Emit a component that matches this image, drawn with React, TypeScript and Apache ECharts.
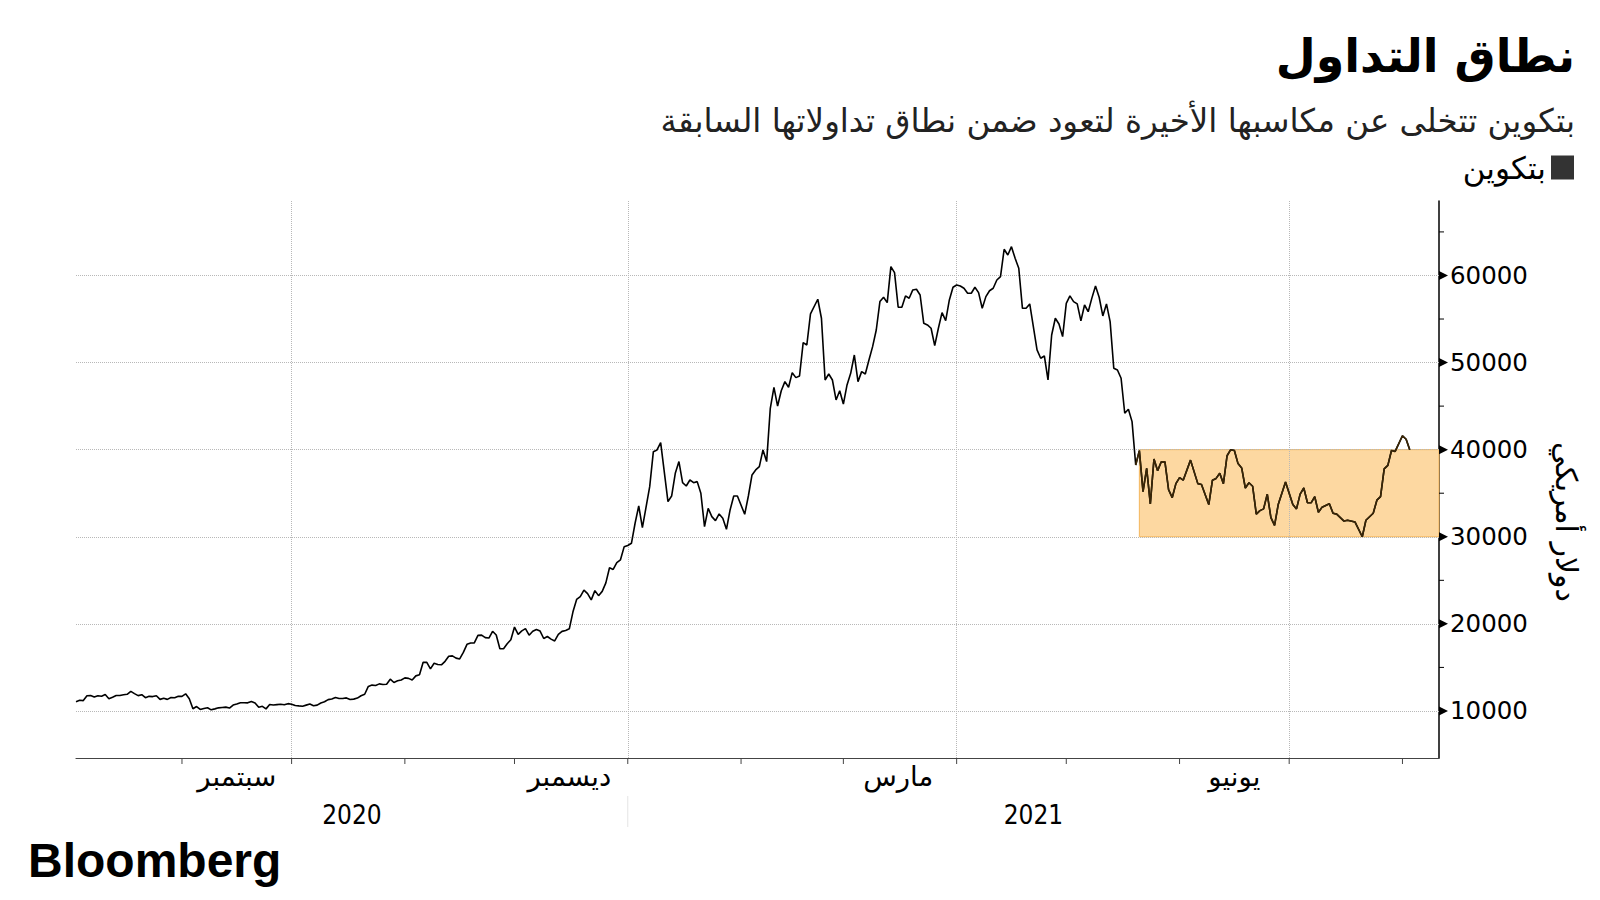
import React, { useEffect, useRef } from "react";
import * as echarts from "echarts";

// ---------- data ----------
const SERIES_NAME = "بتكوين";
const TITLE = "نطاق التداول";
const SUBTITLE = "بتكوين تتخلى عن مكاسبها الأخيرة لتعود ضمن نطاق تداولاتها السابقة";
const Y_NAME = "دولار أمريكي";

const X_START = "2020-08-03";
const X_END = "2021-08-11";

// daily closes, each array starts at the given day of its month (null = no point read)
const aug2020 = [11070, 11230, 11190, 11740, 11770, 11600, 11750, 11680, 11880, 11410, 11580, 11780, 11770, 11860, 11910, 12250, 11990, 11760, 11870, 11520, 11680, 11650, 11750, 11330, 11470, 11330, 11540, 11510, 11680];
const sep2020 = [11680, 11970, 11410, 10250, 10510, 10170, 10280, 10370, 10130, 10240, 10360, 10400, 10440, 10330, 10680, 10790, 10950, 10940, 10930, 11080, 10920, 10420, 10530, 10240, 10740, 10690, 10730, 10770, 10710, 10840];
const oct2020 = [10780, 10620, 10580, 10550, 10670, 10790, 10600, 10670, 10920, 11060, 11300, 11380, 11540, 11430, 11430, 11500, 11320, 11360, 11480, 11750, 11920, 12820, 12970, 12930, 13110, 13030, 13070, 13650, 13270, 13460, 13560];
const nov2020 = [13800, 13740, 13550, 14030, 14150, 15590, 15580, 14830, 15480, 15330, 15300, 15700, 16280, 16320, 16070, 15970, 16720, 17650, 17800, 17820, 18680, 18710, 18420, 18370, 19150, 18720, 17150, 17140, 17720, 18180];
const dec2020 = [19630, 18800, 19200, 19450, 18700, 19150, 19360, 19170, 18320, 18550, 18250, 18040, 18800, 19140, 19250, 19430, 21380, 22800, 23130, 23870, 23480, 22750, 23820, 23240, 23730, 24710, 26440, 26250, 27040, 27360, 28840];
const jan2021 = [29000, 29250, 31550, 33540, 31040, null, 35750, 39770, 39970, 40800, null, 34030, 34680, 37290, 38630, 36210, 35830, 36520, 36210, 36330, 35000, 31160, 33270, 32310, 31850, 32620, 32120, 30860, 33080, 34680, 34680];
const feb2021 = [null, 32580, 34680, 37100, 37670, 38050, 39970, 38630, 44750, 47160, 45010, 46770, 47810, 47160, 48840, 48270, 48460, 52290, 52020, 55580, null, 57270, 55090, 48000, 48690, 48000, 45710, 46770];
const mar2021 = [45240, 47430, 48770, 50870, 47810, 48960, 48690, 50300, 51830, 53740, 57000, 57500, 56880, 61010, 60320, 56350, 56350, 57650, 57380, 58340, 58420, 57760, 54510, 54320, 53940, 51940, 53940, 55730, 54810, 57190, 58650];
const apr2021 = [58910, 58790, 58530, 57960, 57960, 58650, 58030, 56230, 57570, 58250, 58530, 59480, 59860, 63010, 62350, 63310, 61970, 60830, 56230, 56230, 56730, null, 51450, 50500, 50760, 48000, 53170, 55090, 54430, 52980];
const may2021 = [56800, 57650, 57000, 56730, 54780, 56610, 55840, 57400, 58800, 57500, 55350, 56730, 54700, 49350, 49150, 48200, 44180, 44640, 43220, 38240, 39890, 35180, 37860, 33770, 38920, 37590, 38620, 38600, 35400, 34500, 36100];
const jun2021 = [36800, 36500, null, 38800, null, 36100, 36000, null, 33700, 36500, 36700, 37300, 36100, 39300, 40000, 39900, 38400, 37900, 35600, 36200, 35800, 32600, 33000, 33200, 34900, 32200, 31300, 33700, null, 36300];
const jul2021 = [null, 33700, 33200, 34900, 35600, 33900, 33900, 34600, 32800, 33400, null, 33800, 32700, 32600, 32200, 31800, 31900, null, 31700, null, 30000, 31900, 32300, 32700, 34200, 34600, 37800, 38200, 39900, 39800, null];
const aug2021 = [41600, 41200, 40000];

const MONTHS: [number, number, number, (number | null)[]][] = [
  [2020, 8, 3, aug2020],
  [2020, 9, 1, sep2020],
  [2020, 10, 1, oct2020],
  [2020, 11, 1, nov2020],
  [2020, 12, 1, dec2020],
  [2021, 1, 1, jan2021],
  [2021, 2, 1, feb2021],
  [2021, 3, 1, mar2021],
  [2021, 4, 1, apr2021],
  [2021, 5, 1, may2021],
  [2021, 6, 1, jun2021],
  [2021, 7, 1, jul2021],
  [2021, 8, 1, aug2021],
];

// trading range box
const RANGE_START = "2021-05-21";
const RANGE_BOUNDS = [30000, 40000];

// axes
const Y_MIN = 4600;
const Y_MAX = 68550;
const Y_LABELS = [10000, 20000, 30000, 40000, 50000, 60000];
const Y_MINOR = [15000, 25000, 35000, 45000, 55000, 65000];
const MONTH_TICKS = ["2020-09-01", "2020-10-01", "2020-11-01", "2020-12-01", "2021-01-01", "2021-02-01", "2021-03-01", "2021-04-01", "2021-05-01", "2021-06-01", "2021-07-01", "2021-08-01"];
const QUARTER_LINES = ["2020-10-01", "2021-01-01", "2021-04-01", "2021-07-01"];
const MONTH_LABEL_DATES = ["2020-09-16", "2020-12-16", "2021-03-16", "2021-06-16"];
const MONTH_LABELS = ["سبتمبر", "ديسمبر", "مارس", "يونيو"];
const YEAR_BREAK = "2021-01-01";
const YEAR_LABELS = ["2020", "2021"];

// ---------- helpers ----------
const ts = (s: string) => Date.parse(s + "T00:00:00Z");
const DAY = 86400000;

function buildSeries(): [number, number][] {
  const out: [number, number][] = [];
  MONTHS.forEach(([y, m, d0, vals]) => {
    const base = Date.UTC(y, m - 1, d0);
    vals.forEach((v, i) => {
      if (v !== null) out.push([base + i * DAY, v]);
    });
  });
  return out;
}

const AR_FONT = "DejaVu Sans";

function customLayer(name: string, data: any[], renderItem: any) {
  return {
    name,
    type: "custom",
    coordinateSystem: "cartesian2d",
    xAxisIndex: 0,
    yAxisIndex: 0,
    data,
    renderItem,
    clip: false,
    silent: true,
    z: 6,
  };
}

export default function App() {
  const ref = useRef<HTMLDivElement>(null);

  useEffect(() => {
    if (!ref.current) return;
    const chart = echarts.init(ref.current, null, { renderer: "svg" });
    const xMin = ts(X_START);
    const xMax = ts(X_END);
    const yearBreak = ts(YEAR_BREAK);
    const yearCenters = [(xMin + yearBreak) / 2, (yearBreak + xMax) / 2];
    const data = buildSeries();
    const rangeStart = ts(RANGE_START);
    const inRange = data.filter((d) => d[0] >= rangeStart - DAY);

    const xTickLayer = customLayer(
      "xticks",
      MONTH_TICKS.map((d) => [ts(d), Y_MIN]),
      (params: any, api: any) => {
        const p = api.coord([api.value(0), api.value(1)]);
        return {
          type: "line",
          shape: { x1: p[0], y1: p[1], x2: p[0], y2: p[1] + 6 },
          style: { stroke: "#444", lineWidth: 1 },
        };
      }
    );

    const monthLabelLayer = customLayer(
      "monthlabels",
      MONTH_LABEL_DATES.map((d, i) => [ts(d), Y_MIN, i]),
      (params: any, api: any) => {
        const p = api.coord([api.value(0), api.value(1)]);
        return {
          type: "text",
          x: p[0],
          y: p[1] + 4,
          style: {
            text: MONTH_LABELS[api.value(2)],
            fontFamily: AR_FONT,
            fontSize: 27.5,
            fill: "#000",
            align: "center",
            verticalAlign: "top",
          },
        };
      }
    );

    const yearLayer = customLayer(
      "years",
      yearCenters.map((c, i) => [c, Y_MIN, i]),
      (params: any, api: any) => {
        const p = api.coord([api.value(0), api.value(1)]);
        return {
          type: "text",
          x: p[0],
          y: p[1] + 57,
          style: {
            text: YEAR_LABELS[api.value(2)],
            fontFamily: "DejaVu Sans Condensed",
            fontSize: 26,
            fill: "#000",
            align: "center",
            verticalAlign: "middle",
          },
        };
      }
    );

    const yearBreakLayer = customLayer(
      "yearbreak",
      [[yearBreak, Y_MIN]],
      (params: any, api: any) => {
        const p = api.coord([api.value(0), api.value(1)]);
        return {
          type: "line",
          shape: { x1: p[0], y1: p[1] + 38, x2: p[0], y2: p[1] + 69 },
          style: { stroke: "#e4e4e4", lineWidth: 1 },
        };
      }
    );

    const yLabelLayer = customLayer(
      "ylabels",
      Y_LABELS.map((v) => [xMax, v]),
      (params: any, api: any) => {
        const p = api.coord([api.value(0), api.value(1)]);
        return {
          type: "group",
          children: [
            {
              type: "polygon",
              shape: { points: [[p[0], p[1] - 4.5], [p[0] + 9, p[1]], [p[0], p[1] + 4.5]] },
              style: { fill: "#000" },
            },
            {
              type: "text",
              x: p[0] + 11,
              y: p[1],
              style: {
                text: String(api.value(1)),
                fontFamily: "DejaVu Sans",
                fontSize: 24.5,
                fill: "#000",
                align: "left",
                verticalAlign: "middle",
              },
            },
          ],
        };
      }
    );

    const yMinorLayer = customLayer(
      "yminor",
      Y_MINOR.map((v) => [xMax, v]),
      (params: any, api: any) => {
        const p = api.coord([api.value(0), api.value(1)]);
        return {
          type: "line",
          shape: { x1: p[0], y1: p[1], x2: p[0] + 5, y2: p[1] },
          style: { stroke: "#000", lineWidth: 1 },
        };
      }
    );

    const option: any = {
      animation: false,
      backgroundColor: "#ffffff",
      grid: { left: 76, right: 161, top: 201, bottom: 142, containLabel: false },
      legend: {
        data: [SERIES_NAME],
        right: 21,
        top: 147,
        icon: "rect",
        itemWidth: 23,
        itemHeight: 24,
        align: "right",
        itemGap: 8,
        itemStyle: { color: "#333333" },
        textStyle: { fontFamily: AR_FONT, fontSize: 31, color: "#000" },
        selectedMode: false,
      },
      xAxis: {
        type: "value",
        min: xMin,
        max: xMax,
        position: "bottom",
        axisLine: { show: true, onZero: false, lineStyle: { color: "#444", width: 1.2 } },
        axisTick: { show: false },
        axisLabel: { show: false },
        splitLine: { show: false },
      },
      yAxis: {
        type: "value",
        position: "right",
        min: Y_MIN,
        max: Y_MAX,
        axisLine: { show: true, onZero: false, lineStyle: { color: "#000", width: 1.5 } },
        axisTick: { show: false },
        axisLabel: { show: false },
        splitLine: { show: false },
      },
      series: [
        {
          name: SERIES_NAME,
          type: "line",
          data,
          showSymbol: false,
          symbol: "none",
          color: "#000",
          lineStyle: { width: 1.6, color: "#000" },
          z: 3,
          markArea: {
            silent: true,
            z: 1,
            itemStyle: { color: "#fdd8a1", borderColor: "#f4b65b", borderWidth: 1 },
            data: [[{ xAxis: rangeStart, yAxis: RANGE_BOUNDS[0] }, { xAxis: xMax, yAxis: RANGE_BOUNDS[1] }]],
          },
          markLine: {
            silent: true,
            z: 2,
            symbol: ["none", "none"],
            label: { show: false },
            lineStyle: { color: "#b8b8b8", type: "dotted", width: 1 },
            data: [
              ...QUARTER_LINES.map((d) => ({ xAxis: ts(d) })),
              ...Y_LABELS.map((v) => ({ yAxis: v })),
            ],
          },
        },
        {
          name: "inRange",
          type: "line",
          data: inRange,
          showSymbol: false,
          symbol: "none",
          silent: true,
          color: "#3a2606",
          lineStyle: { width: 1.6, color: "#3a2606" },
          z: 4,
        },
        xTickLayer,
        monthLabelLayer,
        yearLayer,
        yearBreakLayer,
        yLabelLayer,
        yMinorLayer,
      ],
      graphic: [
        {
          type: "text",
          x: 1575,
          y: 56,
          style: {
            text: TITLE,
            fontFamily: AR_FONT,
            fontSize: 46,
            fontWeight: "bold",
            fill: "#000",
            align: "right",
            verticalAlign: "middle",
          },
        },
        {
          type: "text",
          x: 1575,
          y: 121,
          style: {
            text: SUBTITLE,
            fontFamily: AR_FONT,
            fontSize: 32.5,
            fill: "#222",
            align: "right",
            verticalAlign: "middle",
          },
        },
        {
          type: "text",
          x: 1566,
          y: 522,
          rotation: -Math.PI / 2,
          style: {
            text: Y_NAME,
            fontFamily: AR_FONT,
            fontSize: 30,
            fill: "#000",
            align: "center",
            verticalAlign: "middle",
          },
        },
        {
          type: "text",
          x: 28,
          y: 860,
          style: {
            text: "Bloomberg",
            fontFamily: "Liberation Sans",
            fontSize: 48,
            fontWeight: "bold",
            fill: "#000",
            align: "left",
            verticalAlign: "middle",
          },
        },
      ],
    };
    chart.setOption(option);
    return () => chart.dispose();
  }, []);

  return (
    <div
      ref={ref}
      style={{ position: "absolute", left: 0, top: 0, width: 1600, height: 900 }}
    />
  );
}
